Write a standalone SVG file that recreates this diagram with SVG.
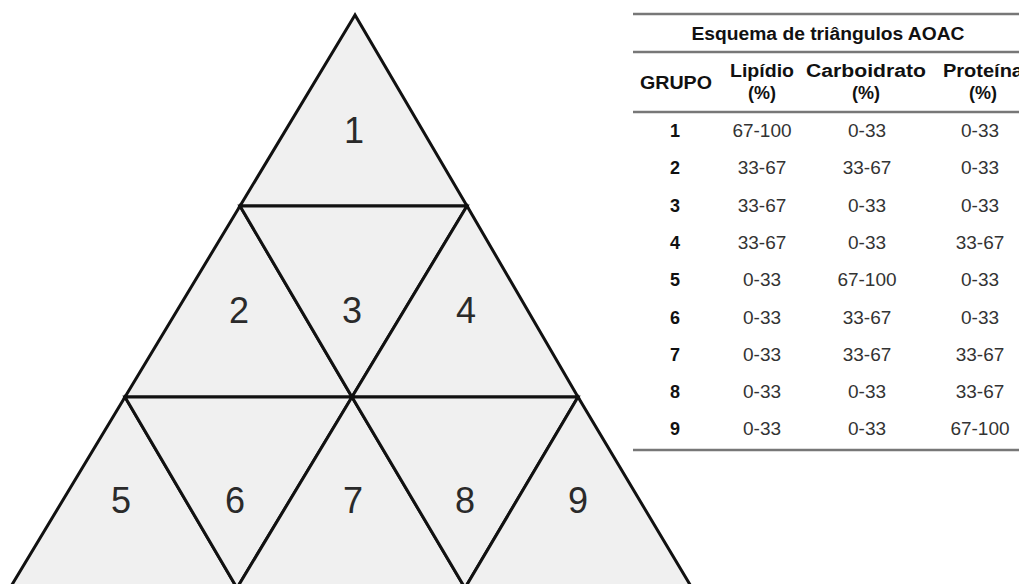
<svg xmlns="http://www.w3.org/2000/svg" width="1019" height="584" viewBox="0 0 1019 584">
<style>
.tri{fill:#f0f0f0;stroke:#111;stroke-width:3;stroke-linejoin:miter}
.num{font-family:"Liberation Sans",Arial,sans-serif;font-size:36px;fill:#2a2a2a;text-anchor:middle}
.th{font-family:"Liberation Sans",Arial,sans-serif;font-size:18px;font-weight:bold;fill:#111;text-anchor:middle}
.td{font-family:"Liberation Sans",Arial,sans-serif;font-size:19px;fill:#333;text-anchor:middle}
.tg{font-family:"Liberation Sans",Arial,sans-serif;font-size:18px;font-weight:bold;fill:#111;text-anchor:middle}
.rule{stroke:#777;stroke-width:2.5}
</style>
<rect width="1019" height="584" fill="#fff"/>
<g id="t1"><polygon class="tri" points="355,15 240,206 467,206"/><text class="num" x="354" y="143">1</text></g>
<g id="t2"><polygon class="tri" points="240,206 125,397 352,397"/><text class="num" x="239" y="323">2</text></g>
<g id="t3"><polygon class="tri" points="240,206 467,206 352,397"/><text class="num" x="352" y="323">3</text></g>
<g id="t4"><polygon class="tri" points="467,206 352,397 578,397"/><text class="num" x="466" y="323">4</text></g>
<g id="t5"><polygon class="tri" points="125,397 10,588 237,588"/><text class="num" x="121" y="513">5</text></g>
<g id="t6"><polygon class="tri" points="125,397 352,397 237,588"/><text class="num" x="235" y="513">6</text></g>
<g id="t7"><polygon class="tri" points="352,397 237,588 465,588"/><text class="num" x="353" y="513">7</text></g>
<g id="t8"><polygon class="tri" points="352,397 578,397 465,588"/><text class="num" x="465" y="513">8</text></g>
<g id="t9"><polygon class="tri" points="578,397 465,588 692,588"/><text class="num" x="578" y="513">9</text></g>
<g id="connectors"></g>
<g id="table">
<line class="rule" x1="633" y1="14" x2="1019" y2="14"/>
<text class="th" x="828" y="40" textLength="273" lengthAdjust="spacingAndGlyphs">Esquema de triângulos AOAC</text>
<line class="rule" x1="633" y1="52" x2="1019" y2="52"/>
<text class="th" x="676" y="89" textLength="72" lengthAdjust="spacingAndGlyphs">GRUPO</text>
<text class="th" x="762" y="77" textLength="64" lengthAdjust="spacingAndGlyphs">Lipídio</text>
<text class="th" x="762" y="99">(%)</text>
<text class="th" x="866" y="77" textLength="120" lengthAdjust="spacingAndGlyphs">Carboidrato</text>
<text class="th" x="866" y="99">(%)</text>
<text class="th" x="983" y="77" textLength="80" lengthAdjust="spacingAndGlyphs">Proteína</text>
<text class="th" x="983" y="99">(%)</text>
<line class="rule" x1="633" y1="112" x2="1019" y2="112"/>
<g>
<text class="tg" x="675" y="137">1</text><text class="td" x="762" y="137">67-100</text><text class="td" x="867" y="137">0-33</text><text class="td" x="980" y="137">0-33</text>
<text class="tg" x="675" y="174.3">2</text><text class="td" x="762" y="174.3">33-67</text><text class="td" x="867" y="174.3">33-67</text><text class="td" x="980" y="174.3">0-33</text>
<text class="tg" x="675" y="211.6">3</text><text class="td" x="762" y="211.6">33-67</text><text class="td" x="867" y="211.6">0-33</text><text class="td" x="980" y="211.6">0-33</text>
<text class="tg" x="675" y="248.9">4</text><text class="td" x="762" y="248.9">33-67</text><text class="td" x="867" y="248.9">0-33</text><text class="td" x="980" y="248.9">33-67</text>
<text class="tg" x="675" y="286.2">5</text><text class="td" x="762" y="286.2">0-33</text><text class="td" x="867" y="286.2">67-100</text><text class="td" x="980" y="286.2">0-33</text>
<text class="tg" x="675" y="323.5">6</text><text class="td" x="762" y="323.5">0-33</text><text class="td" x="867" y="323.5">33-67</text><text class="td" x="980" y="323.5">0-33</text>
<text class="tg" x="675" y="360.8">7</text><text class="td" x="762" y="360.8">0-33</text><text class="td" x="867" y="360.8">33-67</text><text class="td" x="980" y="360.8">33-67</text>
<text class="tg" x="675" y="398.1">8</text><text class="td" x="762" y="398.1">0-33</text><text class="td" x="867" y="398.1">0-33</text><text class="td" x="980" y="398.1">33-67</text>
<text class="tg" x="675" y="435.4">9</text><text class="td" x="762" y="435.4">0-33</text><text class="td" x="867" y="435.4">0-33</text><text class="td" x="980" y="435.4">67-100</text>
</g>
<line class="rule" x1="633" y1="450" x2="1019" y2="450"/>
</g>
</svg>
